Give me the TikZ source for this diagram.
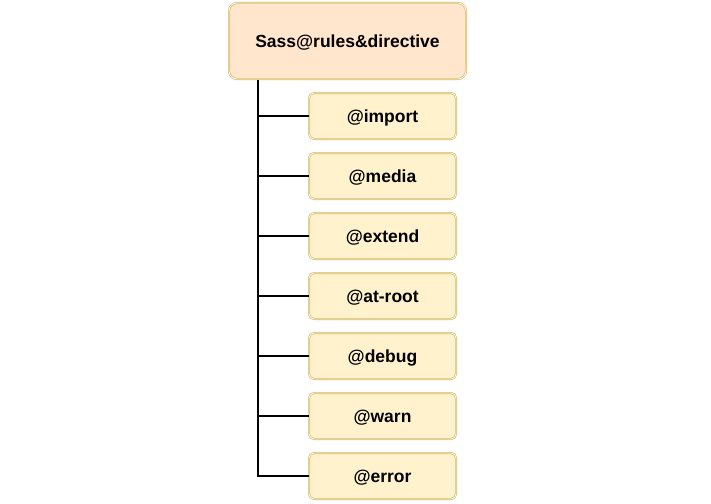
\documentclass[tikz,border=0pt]{standalone}
\usepackage{fontspec}
\setmainfont{Liberation Sans}
\usetikzlibrary{positioning}
\definecolor{rootfill}{HTML}{FFE6CC}
\definecolor{childfill}{HTML}{FFF2CC}
\definecolor{goldline}{HTML}{D6B656}
\tikzset{
  rootbox/.style={%
    draw=goldline,
    double=white,
    double distance=0.8pt,
    line width=0.6pt,
    fill=rootfill,
    rounded corners=8pt,
    minimum width=237pt,
    minimum height=76pt,
    text height=13pt,
    text depth=0pt,
    font=\fontsize{17.5pt}{20pt}\selectfont\bfseries,
  },
  childbox/.style={%
    draw=goldline,
    double=white,
    double distance=0.8pt,
    line width=0.6pt,
    fill=childfill,
    rounded corners=5pt,
    minimum width=147pt,
    minimum height=46pt,
    text height=13pt,
    text depth=0pt,
    font=\fontsize{17.5pt}{20pt}\selectfont\bfseries,
  },
  branch/.style={line width=1.3pt, black},
}

\begin{document}
\begin{tikzpicture}[x=1pt,y=-1pt]
  \useasboundingbox (0,0) rectangle (711,503);
  \node (root) [rootbox] at (347.5,41) {Sass@rules\&directive};
  \coordinate (trunk) at (258,80);
  \foreach \name [count=\i from 0] in {import,media,extend,at-root,debug,warn,error} {
    \node (c\i) [childbox] at (382.5,116+60*\i) {@\name};
  }
  \draw [branch] (trunk) |- (c6.west);
  \foreach \i in {0,...,5} {
    \draw [branch] (trunk |- c\i.west) -- (c\i.west);
  }
\end{tikzpicture}
\end{document}
